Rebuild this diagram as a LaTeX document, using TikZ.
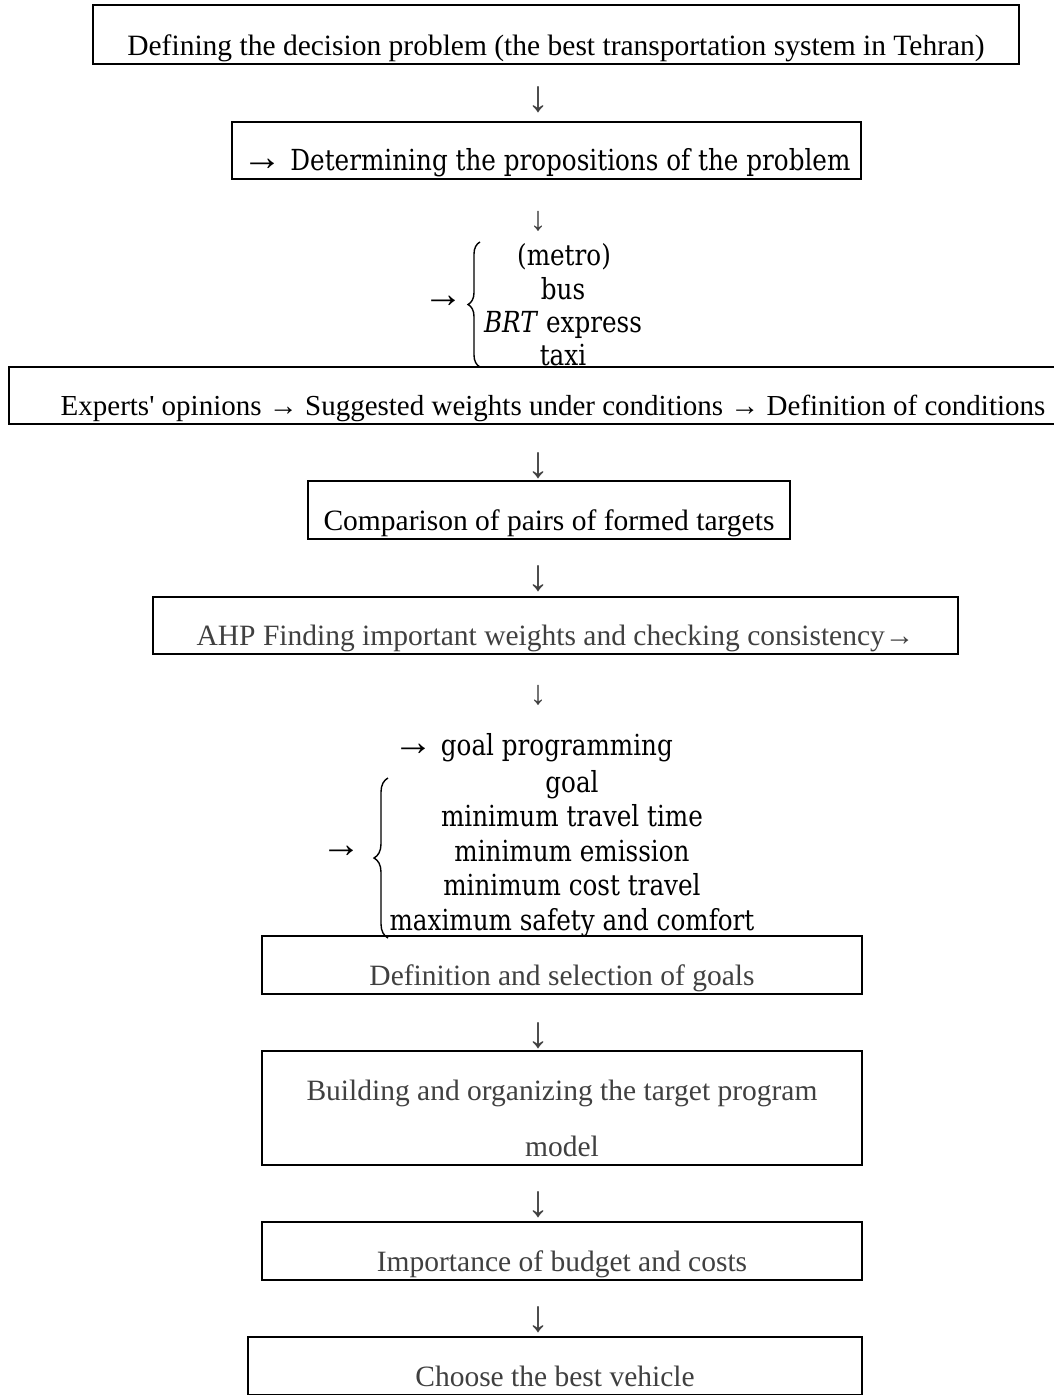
\documentclass[tikz,border=0pt]{standalone}
\usepackage{fontspec}
\setmainfont{Liberation Serif}
\newfontfamily\cambria[FakeStretch=0.85]{DejaVu Serif}
\usetikzlibrary{decorations.pathreplacing}
\definecolor{textgray}{HTML}{404040}
\tikzstyle{block} = [rectangle, draw=black, line width=2.2pt, inner sep=0pt, anchor=south, text depth=8pt, font=\fontsize{29.5}{35}\selectfont]
\tikzstyle{glyph} = [inner sep=0pt, text=textgray, font=\fontsize{44}{50}\selectfont]
\tikzstyle{choice} = [inner sep=0pt, anchor=base, font=\cambria\fontsize{29}{35}\selectfont]
\tikzstyle{curly} = [decorate, decoration={brace, amplitude=12pt}, line width=1.4pt]
\newcommand{\rowgap}{34.5}
\newcommand{\thinarrow}{{\rmfamily\fontsize{40}{35}\selectfont →}}

\begin{document}
\begin{tikzpicture}[x=1pt, y=-1pt]
  \useasboundingbox (0,0) rectangle (1054,1395);

  %\draw[help lines, step=50] (0,0) grid (1054,1395);

  \node (define) [block, minimum width=926pt, text height=51pt] at (556,65) {Defining the decision problem (the best transportation system in Tehran)};
  \node (d1) [glyph] at (538,100) {↓};

  \node (props) [block, minimum width=629pt, text height=49pt, font=\cambria\fontsize{29}{35}\selectfont] at (546.5,180) {\thinarrow\ Determining the propositions of the problem};
  \node (d2) [glyph, font=\fontsize{34}{40}\selectfont] at (538,221) {↓};

  % options of the problem
  \node (toopt) [choice, anchor=center] at (443,302) {\thinarrow};
  \draw [curly] (480,367) -- (480,242);
  \node (metro) [choice] at (564,265) {(metro)};
  \node (bus)   [choice] at (563,299) {bus};
  \node (brt)   [choice] at (563,332) {\textit{BRT} express};
  \node (taxi)  [choice] at (563,365) {taxi};

  \node (experts) [block, minimum width=1088pt, text height=49pt, font=\fontsize{29}{35}\selectfont] at (553,425) {Experts\textquotesingle{} opinions → Suggested weights under conditions → Definition of conditions};
  \node (d3) [glyph] at (538,466) {↓};

  \node (compare) [block, minimum width=482pt, text height=50pt] at (549,540) {Comparison of pairs of formed targets};
  \node (d4) [glyph] at (538,579) {↓};

  \node (ahp) [block, minimum width=805pt, text height=49pt, text=textgray] at (555.5,655) {AHP Finding important weights and checking consistency→};
  \node (d5) [glyph, font=\fontsize{34}{40}\selectfont] at (538,695) {↓};

  % goals of the model
  \node (gp) [choice] at (533,755) {\thinarrow\ goal programming};
  \node (togoal) [choice, anchor=center] at (341,852) {\thinarrow};
  \draw [curly, decoration={amplitude=14pt}] (388,938) -- (388,778);
  \node (g0) [choice] at (572,792) {goal};
  \node (g1) [choice] at (572,792+\rowgap) {minimum travel time};
  \node (g2) [choice] at (572,792+2*\rowgap) {minimum emission};
  \node (g3) [choice] at (572,792+3*\rowgap) {minimum cost travel};
  \node (g4) [choice] at (572,930) {maximum safety and comfort};

  \node (goals) [block, minimum width=600pt, text height=50pt, text=textgray] at (562,995) {Definition and selection of goals};
  \node (d6) [glyph] at (538,1036) {↓};

  \node (build) [block, minimum width=600pt, text height=106pt, align=center, text=textgray, font=\fontsize{29.5}{56}\selectfont] at (562,1166) {Building and organizing the target program\\model};
  \node (d7) [glyph] at (538,1205) {↓};

  \node (budget) [block, minimum width=600pt, text height=50pt, text=textgray] at (562,1281) {Importance of budget and costs};
  \node (d8) [glyph] at (538,1320) {↓};

  \node (choose) [block, minimum width=614pt, text height=50pt, text=textgray] at (555,1396) {Choose the best vehicle};

\end{tikzpicture}
\end{document}
